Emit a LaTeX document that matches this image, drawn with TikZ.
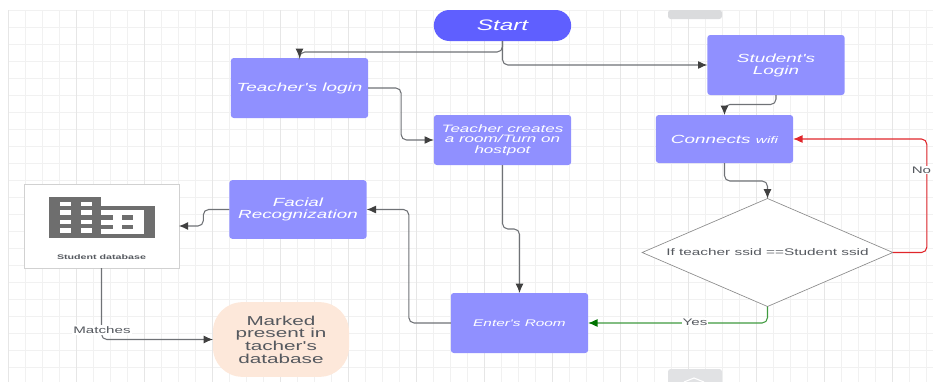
\documentclass[tikz,border=0pt]{standalone}
\usepackage{fontspec}
\setmainfont{Liberation Sans}
\newfontfamily\stretchfont[FakeStretch=1.6]{Liberation Sans}
\usetikzlibrary{calc}
\usetikzlibrary{arrows.meta}
\usetikzlibrary{shapes.geometric}
\definecolor{boxblue}{HTML}{9090FF}
\definecolor{startblue}{HTML}{5F5FFF}
\definecolor{peach}{HTML}{FDE8DA}
\definecolor{inkgrey}{HTML}{55595F}
\definecolor{linegrey}{HTML}{6F7276}
\definecolor{gridminor}{HTML}{F1F1F1}
\definecolor{gridmajor}{HTML}{E6E6E6}
\definecolor{tabgrey}{HTML}{DADBDD}
\definecolor{iconfill}{HTML}{6E6E6E}
\definecolor{yesgreen}{HTML}{3F9A3F}
\definecolor{nored}{HTML}{E0262B}
\tikzset{
  bluebox/.style={fill=boxblue,rounded corners=2.2pt,minimum width=103pt,minimum height=45pt,align=center,inner sep=0pt,outer sep=0pt,text=white,font=\stretchfont\itshape\fontsize{8.85}{9}\selectfont},
  conn/.style={draw=linegrey,line width=0.8pt,rounded corners=4pt,-{Latex[length=7pt,width=6pt,color=black!75]}},
  edgelabel/.style={fill=white,inner sep=0.8pt,text=inkgrey,font=\stretchfont\fontsize{7.1}{9}\selectfont},
}
\begin{document}
\begin{tikzpicture}[x=0.75pt,y=-0.75pt]
\clip (0,0) rectangle (933,382);
% grid
\foreach \i in {0,...,54} {
  \draw[gridminor,line width=0.7pt] ({8+17*\i},10) -- ({8+17*\i},382);
}
\foreach \i in {0,...,21} {
  \draw[gridminor,line width=0.7pt] (8,{10+17*\i}) -- (933,{10+17*\i});
}
\foreach \i in {0,...,13} {
  \draw[gridmajor,line width=0.7pt] ({8+68*\i},10) -- ({8+68*\i},382);
}
\fill[tabgrey,rounded corners=2pt] (668,10) rectangle (722,19);
\fill[tabgrey!80,rounded corners=2pt] (668,369) rectangle (722,390);
\draw[white,line width=0.8pt] (684,382) -- (694,378) -- (704,382);
\node[fill=startblue,rounded corners=11.6pt,minimum width=103pt,minimum height=23.25pt,inner sep=0pt,outer sep=0pt,text=white,font=\stretchfont\itshape\fontsize{11.4}{13}\selectfont] (start) at (502.5,25.5) {Start};
\node[bluebox] (tlogin) at (299.5,88) {Teacher's login};
\node[bluebox,minimum height=37.5pt,font=\stretchfont\itshape\fontsize{8}{8}\selectfont] (troom) at (502.5,140) {Teacher creates\\a room/Turn on\\hostpot};
\node[bluebox] (slogin) at (776,65) {Student's\\Login};
\node[bluebox,minimum height=36pt] (wifi) at (724.5,139) {Connects {\fontsize{7.2}{8}\selectfont wifi}};
\node[bluebox,minimum height=44pt] (face) at (298,209.5) {Facial\\Recognization};
\node[bluebox,font=\stretchfont\itshape\fontsize{7.2}{9}\selectfont] (room) at (519.5,323) {Enter's Room};
\node[draw=black!18,fill=white,minimum width=116pt,minimum height=63pt,inner sep=0pt,outer sep=0pt] (db) at (101.5,226) {};
\node[inner sep=0pt,text=inkgrey,font=\stretchfont\bfseries\fontsize{5}{6}\selectfont] (dbtext) at (101.5,257.5) {Student database};
% building icon
\fill[iconfill] (49,197) rectangle (101,238);
\fill[iconfill] (101,206) rectangle (154.5,238);
\fill[white] (101,210) rectangle (144,234);
\foreach \y in {201.5,210,219.5,228} {
  \fill[white] (60,\y) rectangle (71,\y+4.5);
  \fill[white] (81,\y) rectangle (92,\y+4.5);
}
\foreach \y in {215,224.5} {
  \fill[iconfill] (101,\y) rectangle (113,\y+4.5);
  \fill[iconfill] (122,\y) rectangle (133,\y+4.5);
}
\node[fill=peach,rounded corners=22pt,minimum width=102pt,minimum height=56pt,align=center,inner sep=0pt,outer sep=0pt,text=inkgrey,font=\stretchfont\fontsize{9.7}{9.5}\selectfont] (marked) at (281,339.5) {Marked\\present in\\tacher's\\database};
\node[diamond,draw=black!45,fill=white,line width=0.5pt,minimum width=188pt,minimum height=81pt,inner sep=0pt,outer sep=0pt,aspect=2.3] (check) at (767.5,252.5) {};
\node[inner sep=0pt,text=inkgrey,font=\stretchfont\fontsize{7.2}{9}\selectfont] (checktext) at (767.5,252) {If teacher ssid ==Student ssid};
% connectors
\draw[conn] (start.south) -- ++(0,11) -| (tlogin.north);
\draw[conn] (start.south) |- (slogin.west);
\draw[conn] (tlogin.east) -- ++(33,0) |- (troom.west);
\draw[conn] (troom.south) -- ++(0,64) -| (room.north);
\draw[conn] (slogin.south) -- ++(0,9.5) -| (wifi.north);
\draw[conn] (wifi.south) -- ++(0,18) -| (check.north);
\draw[conn,draw=nored,-{Latex[length=7pt,width=6pt,color=nored]}] (check.east) -- ++(34,0) |- (wifi.east);
\draw[conn,draw=yesgreen,-{Latex[length=7pt,width=6pt,color=green!45!black]}] (check.south) |- (room.east);
\draw[conn] (room.west) -- ++(-42,0) |- (face.east);
\draw[conn] (face.west) -- ++(-26,0) |- (db.east);
\draw[conn] (db.south) |- (marked.west);
\node[edgelabel] (yes) at (695,322) {Yes};
\node[edgelabel,anchor=east] (no) at (932.5,170) {No};
\node[edgelabel] (matches) at (102,330) {Matches};
\end{tikzpicture}
\end{document}
